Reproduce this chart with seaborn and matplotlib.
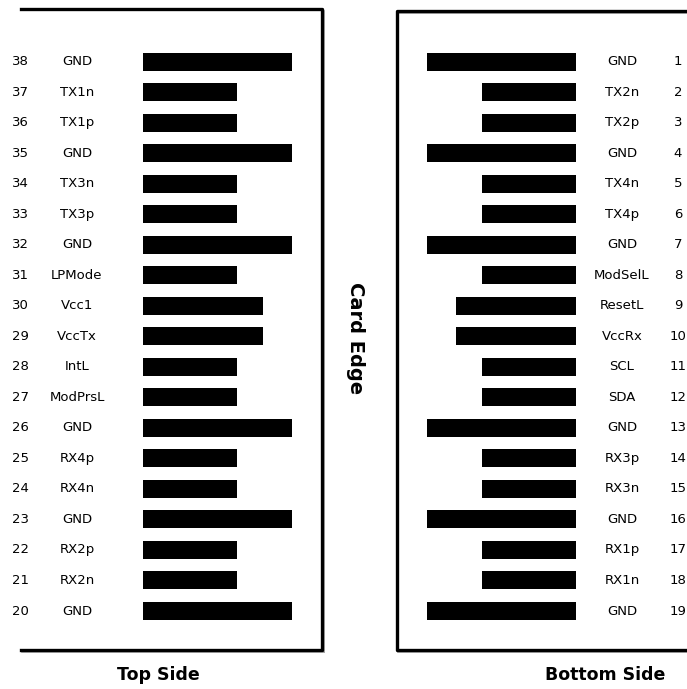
import numpy as np
import pandas as pd
import seaborn as sns
import matplotlib.pyplot as plt

# QSFP card edge pinout, top and bottom side

top_pins = [38, 37, 36, 35, 34, 33, 32, 31, 30, 29, 28, 27, 26, 25, 24, 23, 22, 21, 20]
top_names = ['GND', 'TX1n', 'TX1p', 'GND', 'TX3n', 'TX3p', 'GND', 'LPMode', 'Vcc1', 'VccTx',
             'IntL', 'ModPrsL', 'GND', 'RX4p', 'RX4n', 'GND', 'RX2p', 'RX2n', 'GND']
top_lengths = [149, 94, 94, 149, 94, 94, 149, 94, 120, 120, 94, 94, 149, 94, 94, 149, 94, 94, 149]

bottom_pins = [1, 2, 3, 4, 5, 6, 7, 8, 9, 10, 11, 12, 13, 14, 15, 16, 17, 18, 19]
bottom_names = ['GND', 'TX2n', 'TX2p', 'GND', 'TX4n', 'TX4p', 'GND', 'ModSelL', 'ResetL', 'VccRx',
                'SCL', 'SDA', 'GND', 'RX3p', 'RX3n', 'GND', 'RX1p', 'RX1n', 'GND']
bottom_lengths = [149, 94, 94, 149, 94, 94, 149, 94, 120, 120, 94, 94, 149, 94, 94, 149, 94, 94, 149]

top_df = pd.DataFrame({'pin': [str(p) for p in top_pins], 'name': top_names, 'length': top_lengths})
bot_df = pd.DataFrame({'pin': [str(p) for p in bottom_pins], 'name': bottom_names, 'length': bottom_lengths})

W, H = 687, 689
fig = plt.figure(figsize=(W / 100, H / 100), dpi=100)

# background axes in pixel coordinates for the frames and captions
bg = fig.add_axes([0, 0, 1, 1])
bg.set_xlim(0, W)
bg.set_ylim(H, 0)
bg.axis('off')

lw = 2.4
shadow = dict(color='#a0a0a0', lw=1.2, solid_capstyle='projecting', zorder=1)
frame = dict(color='black', lw=lw, solid_capstyle='projecting', zorder=2)
# left panel frame (open on the left)
bg.plot([21, 322, 322, 21], [9, 9, 650, 650], **frame)
bg.plot([324, 324], [11, 652], **shadow)
bg.plot([22, 324], [652, 652], **shadow)
# right panel frame (open on the right)
bg.plot([W, 397, 397, W], [11, 11, 650, 650], **frame)
bg.plot([399, W], [13, 13], **shadow)
bg.plot([398, W], [652, 652], **shadow)

bg.text(158.5, 675, 'Top Side', ha='center', va='center', fontsize=12.5, fontweight='bold')
bg.text(605, 675, 'Bottom Side', ha='center', va='center', fontsize=12.5, fontweight='bold')
bg.text(356, 338, 'Card Edge', ha='center', va='center', rotation=-90,
        fontsize=14, fontweight='bold')

# row geometry: first row at y=61.5 px, last at y=611 px
row_px = (611 - 61.5) / 18
ylims = ((H - 61.5) / row_px, -61.5 / row_px)
bar_w = 18 / row_px
fs = 9.5

# top side: bars start at x=143 px
axl = fig.add_axes([0, 0, 340 / W, 1])
axl.patch.set_alpha(0)
sns.barplot(data=top_df, x='length', y='pin', order=top_df['pin'], orient='h',
            color='black', saturation=1, width=bar_w, ax=axl)
axl.set_xlim(-143, 340 - 143)
axl.set_ylim(*ylims)
axl.axis('off')
for i, (p, n) in enumerate(zip(top_pins, top_names)):
    axl.text(20.5 - 143, i, str(p), ha='center', va='center', fontsize=fs)
    axl.text(77 - 143, i, n, ha='center', va='center', fontsize=fs)

# bottom side: bars end at x=576 px, drawn leftwards
axr = fig.add_axes([340 / W, 0, 1 - 340 / W, 1])
axr.patch.set_alpha(0)
sns.barplot(data=bot_df, x='length', y='pin', order=bot_df['pin'], orient='h',
            color='black', saturation=1, width=bar_w, ax=axr)
axr.set_xlim(576 - 340, 576 - W)
axr.set_ylim(*ylims)
axr.axis('off')
for i, (p, n) in enumerate(zip(bottom_pins, bottom_names)):
    axr.text(576 - 622, i, n, ha='center', va='center', fontsize=fs)
    axr.text(576 - 678, i, str(p), ha='center', va='center', fontsize=fs)

fig.savefig('out.png', dpi=100)
